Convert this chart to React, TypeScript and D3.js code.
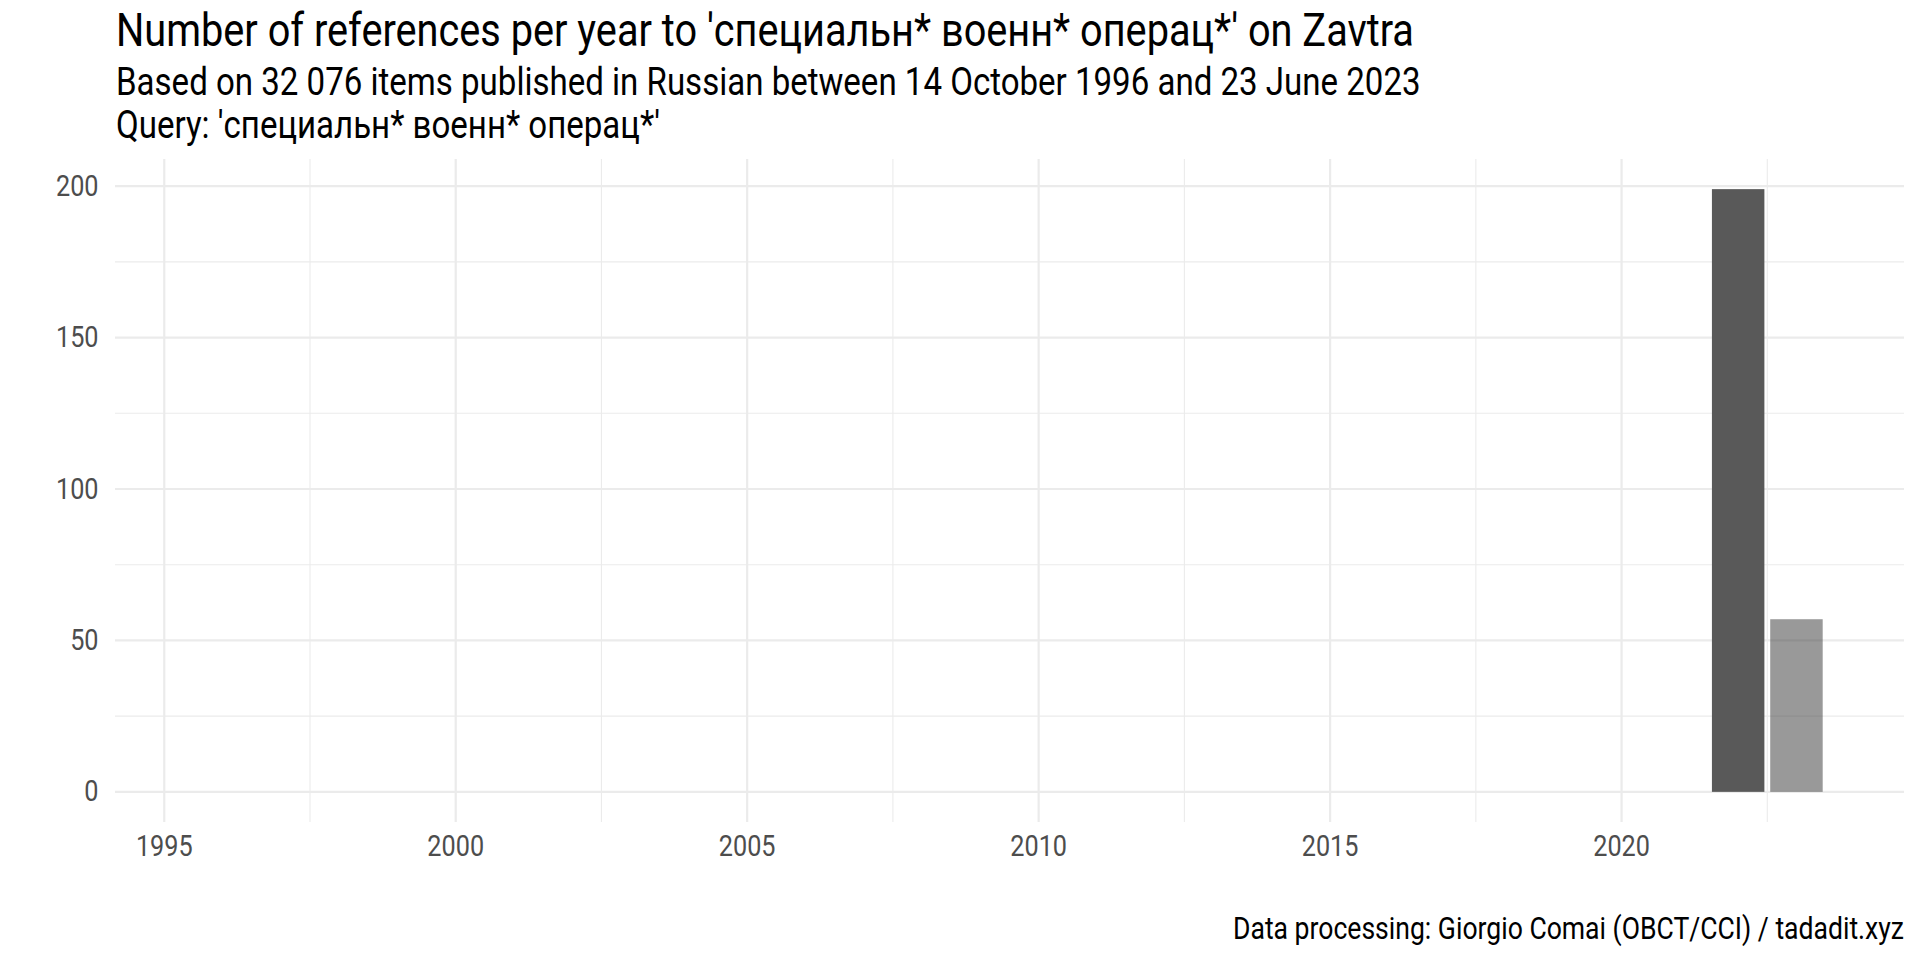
import React, { useMemo } from "react";
import * as d3 from "d3";

const years = [1996, 1997, 1998, 1999, 2000, 2001, 2002, 2003, 2004, 2005, 2006, 2007, 2008, 2009, 2010, 2011, 2012, 2013, 2014, 2015, 2016, 2017, 2018, 2019, 2020, 2021, 2022, 2023];
const counts = [0, 0, 0, 0, 0, 0, 0, 0, 0, 0, 0, 0, 0, 0, 0, 0, 0, 0, 0, 0, 0, 0, 0, 0, 0, 0, 199, 57];
const partialYear = [false, false, false, false, false, false, false, false, false, false, false, false, false, false, false, false, false, false, false, false, false, false, false, false, false, false, false, true];
const xTicks = [1995, 2000, 2005, 2010, 2015, 2020];
const xMinor = [1997.5, 2002.5, 2007.5, 2012.5, 2017.5, 2022.5];
const yTicks = [0, 50, 100, 150, 200];
const yMinor = [25, 75, 125, 175];

const title = "Number of references per year to 'специальн* военн* операц*' on Zavtra";
const subtitle1 = "Based on 32 076 items published in Russian between 14 October 1996 and 23 June 2023";
const subtitle2 = "Query: 'специальн* военн* операц*'";
const caption = "Data processing: Giorgio Comai (OBCT/CCI) / tadadit.xyz";

const W = 1920;
const H = 960;
const panel = { left: 115, right: 1904, top: 159, bottom: 822 };
const FONT = "Roboto, 'Noto Sans', sans-serif";
const CONDENSE = 0.87;

function useMeasure() {
  return useMemo(() => {
    const c = document.createElement("canvas");
    const ctx = c.getContext("2d")!;
    return (text: string) => {
      ctx.font = "100px Roboto";
      return ctx.measureText(text).width / 100;
    };
  }, []);
}

export default function App() {
  const measure = useMeasure();
  const sizeFor = (text: string, width: number) => width / (measure(text) * CONDENSE);

  const barWidth = 0.9;
  const xMin = d3.min(years)! - barWidth / 2;
  const xMax = d3.max(years)! + barWidth / 2;
  const xPad = (xMax - xMin) * 0.05;
  const x = d3.scaleLinear().domain([xMin - xPad, xMax + xPad]).range([panel.left, panel.right]);
  const yMaxV = d3.max(counts)!;
  const yPad = yMaxV * 0.05;
  const y = d3.scaleLinear().domain([-yPad, yMaxV + yPad]).range([panel.bottom, panel.top]);

  const grid = "#ebebeb";
  const tickColor = "#4d4d4d";
  const tickSize = 29;

  const titleSize = sizeFor(title, 1297);
  const subSize = sizeFor(subtitle1, 1305);
  const capSize = sizeFor(caption, 671);

  return (
    <svg width={W} height={H} viewBox={`0 0 ${W} ${H}`} style={{ position: "absolute", left: 0, top: 0, display: "block", background: "#fff" }}>
      <rect x={0} y={0} width={W} height={H} fill="#fff" />
      {yMinor.map((v) => (
        <line key={"ym" + v} x1={panel.left} x2={panel.right} y1={y(v)} y2={y(v)} stroke={grid} strokeWidth={1.1} />
      ))}
      {xMinor.map((v) => (
        <line key={"xm" + v} x1={x(v)} x2={x(v)} y1={panel.top} y2={panel.bottom} stroke={grid} strokeWidth={1.1} />
      ))}
      {yTicks.map((v) => (
        <line key={"yM" + v} x1={panel.left} x2={panel.right} y1={y(v)} y2={y(v)} stroke={grid} strokeWidth={2.2} />
      ))}
      {xTicks.map((v) => (
        <line key={"xM" + v} x1={x(v)} x2={x(v)} y1={panel.top} y2={panel.bottom} stroke={grid} strokeWidth={2.2} />
      ))}
      {years.map((yr, i) =>
        counts[i] > 0 ? (
          <rect
            key={"b" + yr}
            x={x(yr - barWidth / 2)}
            width={x(yr + barWidth / 2) - x(yr - barWidth / 2)}
            y={y(counts[i])}
            height={y(0) - y(counts[i])}
            fill={partialYear[i] ? "#333333" : "#595959"}
            fillOpacity={partialYear[i] ? 0.5 : 1}
          />
        ) : null
      )}
      {yTicks.map((v) => (
        <text
          key={"yl" + v}
          transform={`translate(98.5, ${y(v)}) scale(${CONDENSE},1)`}
          textAnchor="end"
          dominantBaseline="central"
          fontFamily={FONT}
          fontSize={tickSize}
          fill={tickColor}
        >
          {String(v)}
        </text>
      ))}
      {xTicks.map((v) => (
        <text
          key={"xl" + v}
          transform={`translate(${x(v)}, 855.5) scale(${CONDENSE},1)`}
          textAnchor="middle"
          fontFamily={FONT}
          fontSize={tickSize}
          fill={tickColor}
        >
          {String(v)}
        </text>
      ))}
      <text transform={`translate(116, 46) scale(${CONDENSE},1)`} fontFamily={FONT} fontSize={titleSize} fill="#000">
        {title}
      </text>
      <text transform={`translate(116, 95) scale(${CONDENSE},1)`} fontFamily={FONT} fontSize={subSize} fill="#000">
        {subtitle1}
      </text>
      <text transform={`translate(116, 137.5) scale(${CONDENSE},1)`} fontFamily={FONT} fontSize={subSize} fill="#000">
        {subtitle2}
      </text>
      <text transform={`translate(1904, 939.3) scale(${CONDENSE},1)`} textAnchor="end" fontFamily={FONT} fontSize={capSize} fill="#000">
        {caption}
      </text>
    </svg>
  );
}
